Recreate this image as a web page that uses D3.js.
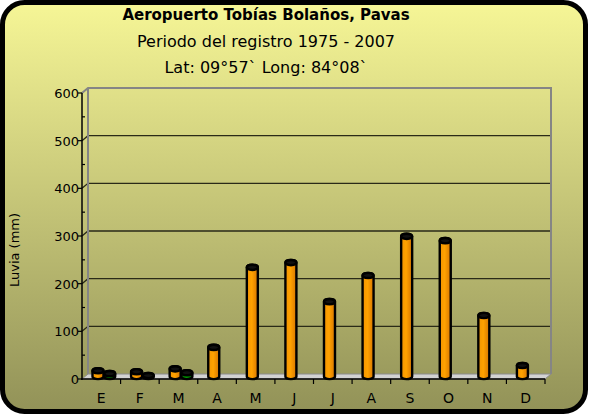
<!DOCTYPE html>
<html>
<head>
<meta charset="utf-8">
<script src="https://cdn.jsdelivr.net/npm/d3@7"></script>
<style>
  body { margin: 0; background: #fff; }
  svg text { font-family: "DejaVu Sans", "Liberation Sans", sans-serif; }
</style>
</head>
<body>
<div id="chart"></div>
<script>
// datos
var meses = ["E", "F", "M", "A", "M", "J", "J", "A", "S", "O", "N", "D"]
var lluvia = [12, 10, 16, 61, 229, 239, 157, 212, 294, 285, 128, 23]
var serie2 = [6, 2, 8, 0, 0, 0, 0, 0, 0, 0, 0, 0]
var yTicks = [0, 100, 200, 300, 400, 500, 600]
var titulos = ["Aeropuerto Tobías Bolaños, Pavas", "Periodo del registro 1975 - 2007", "Lat: 09°57` Long: 84°08`"]

var width = 594, height = 417
var svg = d3.select("#chart").append("svg")
    .attr("width", width).attr("height", height)

var defs = svg.append("defs")
var bg = defs.append("linearGradient").attr("id", "bg").attr("x1", 0).attr("y1", 0).attr("x2", 0).attr("y2", 1)
bg.append("stop").attr("offset", "0%").attr("stop-color", "#f6f696")
bg.append("stop").attr("offset", "100%").attr("stop-color", "#929258")

function barGrad(id, c1, c2, c3) {
    var g = defs.append("linearGradient").attr("id", id).attr("x1", 0).attr("y1", 0).attr("x2", 1).attr("y2", 0)
    g.append("stop").attr("offset", "0%").attr("stop-color", c1)
    g.append("stop").attr("offset", "45%").attr("stop-color", c2)
    g.append("stop").attr("offset", "100%").attr("stop-color", c3)
}
barGrad("gOrange", "#f29400", "#ffa200", "#d77600")
barGrad("gGreen", "#007a00", "#00a000", "#005c00")

// marco
svg.append("rect")
    .attr("x", 2.5).attr("y", 2.5).attr("width", 583).attr("height", 409)
    .attr("rx", 22).attr("ry", 22)
    .attr("fill", "url(#bg)").attr("stroke", "#000").attr("stroke-width", 5)

// titulos
svg.selectAll(".titulo").data(titulos).enter().append("text")
    .attr("x", 266).attr("y", function (d, i) { return 20 + i * 26.5 })
    .attr("text-anchor", "middle")
    .style("font-size", function (d, i) { return i == 0 ? "15px" : "16px" })
    .style("font-weight", function (d, i) { return i == 0 ? "bold" : "normal" })
    .attr("fill", "#000")
    .text(function (d) { return d })

// escalas
var dx = 6, dy = -5
var x = d3.scaleBand().domain(d3.range(meses.length)).range([82, 545])
var y = d3.scaleLinear().domain([0, 600]).range([379, 93])

// pared del fondo
var g = svg.append("g")
var gridVals = yTicks.filter(function (v) { return v > 0 && v < 600 })
g.selectAll(".grid").data(gridVals).enter().append("polyline")
    .attr("points", function (v) { return [[82, y(v)], [82 + dx, y(v) + dy], [545 + dx, y(v) + dy]].join(" ") })
    .attr("fill", "none").attr("stroke", "#2a2a18").attr("stroke-width", 1.3)

g.append("polyline")
    .attr("points", [[82, y(600)], [82 + dx, y(600) + dy], [545 + dx, y(600) + dy], [545 + dx, y(0) + dy]].join(" "))
    .attr("fill", "none").attr("stroke", "#858585").attr("stroke-width", 2)
g.append("line")
    .attr("x1", 82 + dx).attr("x2", 82 + dx).attr("y1", y(600) + dy).attr("y2", y(0) + dy)
    .attr("stroke", "#858585").attr("stroke-width", 2)

// piso
g.append("polygon")
    .attr("points", [[82, y(0)], [82 + dx, y(0) + dy], [545 + dx, y(0) + dy], [545, y(0)]].join(" "))
    .attr("fill", "#d2d2d2").attr("stroke", "#8a8a8a").attr("stroke-width", 1)

// ejes
g.append("line").attr("x1", 82).attr("x2", 82).attr("y1", y(600)).attr("y2", y(0) + 1)
    .attr("stroke", "#000").attr("stroke-width", 1.5)
g.append("line").attr("x1", 81).attr("x2", 545).attr("y1", y(0)).attr("y2", y(0))
    .attr("stroke", "#000").attr("stroke-width", 1.5)

g.selectAll(".ytick").data(yTicks).enter().append("line")
    .attr("x1", 78).attr("x2", 82).attr("y1", function (v) { return y(v) }).attr("y2", function (v) { return y(v) })
    .attr("stroke", "#000").attr("stroke-width", 1.2)
g.selectAll(".yminor").data(yTicks.slice(0, -1)).enter().append("line")
    .attr("x1", 82).attr("x2", 85).attr("y1", function (v) { return y(v + 50) }).attr("y2", function (v) { return y(v + 50) })
    .attr("stroke", "#000").attr("stroke-width", 1.2)
g.selectAll(".ylab").data(yTicks).enter().append("text")
    .attr("x", 79).attr("y", function (v) { return y(v) + 5 })
    .attr("text-anchor", "end").style("font-size", "13px")
    .text(function (v) { return v })

g.selectAll(".xtick").data(d3.range(1, meses.length + 1)).enter().append("line")
    .attr("x1", function (i) { return 82 + i * x.bandwidth() }).attr("x2", function (i) { return 82 + i * x.bandwidth() })
    .attr("y1", y(0)).attr("y2", y(0) + 5)
    .attr("stroke", "#000").attr("stroke-width", 1.2)
g.selectAll(".xlab").data(meses).enter().append("text")
    .attr("x", function (d, i) { return x(i) + x.bandwidth() / 2 })
    .attr("y", 403)
    .attr("text-anchor", "middle").style("font-size", "14px")
    .text(function (d) { return d })

svg.append("text")
    .attr("transform", "translate(19,250) rotate(-90)")
    .attr("text-anchor", "middle").style("font-size", "13px")
    .text("Luvia (mm)")

// barras cilindricas
var bw = 11, ry = 2.6, base = y(0) - 2.5
function cylinder(cx, top) {
    var l = cx - bw / 2, r = cx + bw / 2
    return "M" + l + "," + top + "L" + l + "," + base +
        "A" + (bw / 2) + "," + ry + " 0 0 0 " + r + "," + base +
        "L" + r + "," + top +
        "A" + (bw / 2) + "," + ry + " 0 0 0 " + l + "," + top + "Z"
}
function drawSeries(values, offset, fillId) {
    var data = values.map(function (v, i) { return { i: i, v: v } }).filter(function (d) { return d.v > 0 })
    var bars = g.selectAll(".b" + fillId).data(data).enter().append("g")
    bars.append("path")
        .attr("d", function (d) { return cylinder(x(d.i) + x.bandwidth() / 2 + offset, base - (y(0) - y(d.v))) })
        .attr("fill", "url(#" + fillId + ")").attr("stroke", "#000").attr("stroke-width", 2.4)
    bars.append("ellipse")
        .attr("cx", function (d) { return x(d.i) + x.bandwidth() / 2 + offset })
        .attr("cy", function (d) { return base - (y(0) - y(d.v)) })
        .attr("rx", bw / 2).attr("ry", ry)
        .attr("fill", "#111").attr("stroke", "#000").attr("stroke-width", 2.4)
}
drawSeries(serie2, 8.4, "gGreen")
drawSeries(lluvia, -3.3, "gOrange")
</script>
</body>
</html>
